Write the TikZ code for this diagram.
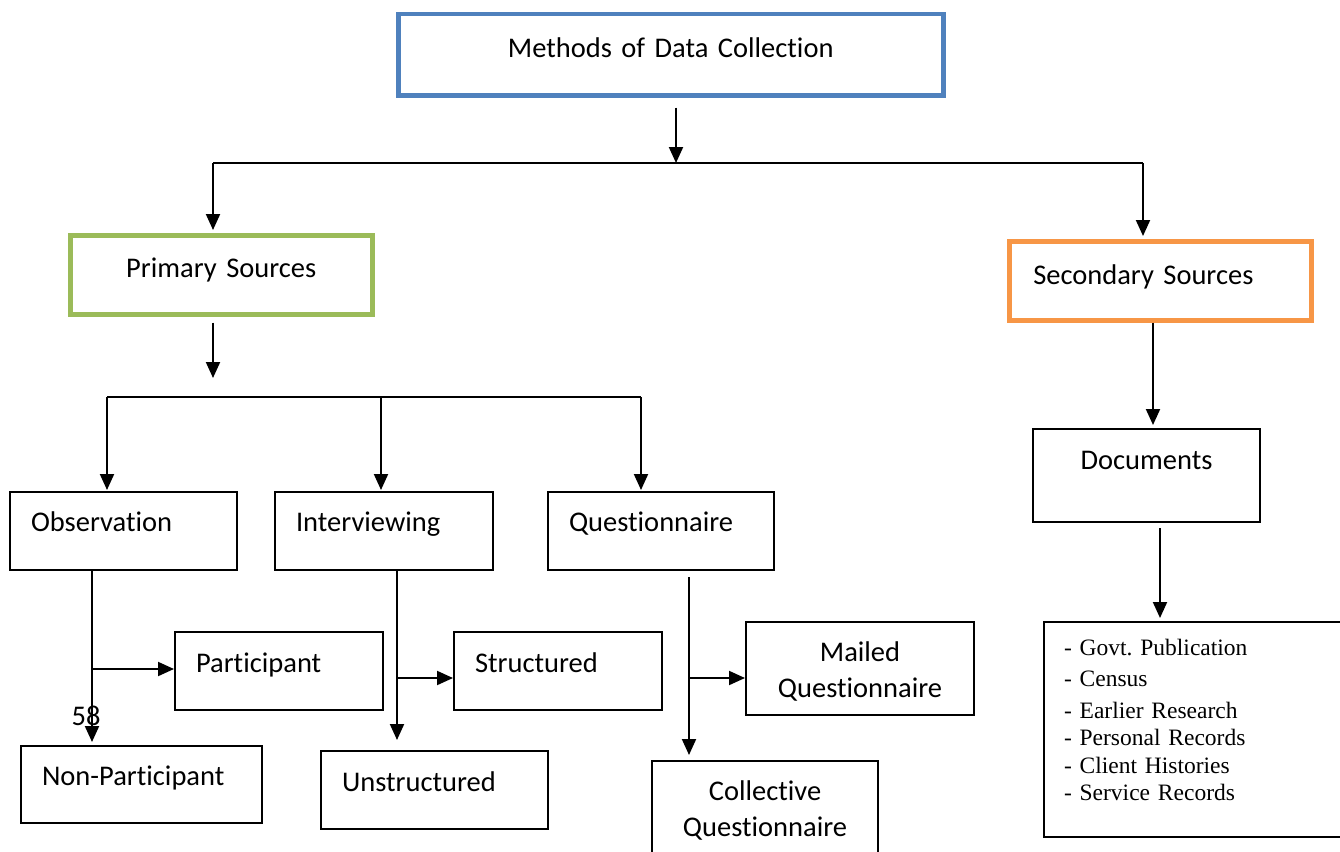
\documentclass[tikz,border=0pt]{standalone}
\usepackage{fontspec}
\setmainfont{Carlito}[Ligatures={NoCommon}]
\newfontfamily\listfont{Liberation Serif}
\usetikzlibrary{arrows.meta}
\frenchspacing

\definecolor{topblue}{HTML}{4F81BD}
\definecolor{primgreen}{HTML}{9BBB59}
\definecolor{secorange}{HTML}{F79646}

\tikzset{
  every node/.style={font=\fontsize{28.5}{36}\selectfont, inner ysep=0pt},
  box/.style={draw=black, line width=2pt, rectangle, anchor=north west},
  cbox/.style={box, line width=4.5pt},
  ln/.style={line width=2pt},
  arr/.style={line width=2pt, -{Triangle[width=14pt,length=16pt]}}
}

\begin{document}
\begin{tikzpicture}[x=1pt,y=-1pt]
\useasboundingbox (0,0) rectangle (1340,851);

% top level
\node[cbox, draw=topblue, inner xsep=0pt, text width=545pt, align=center,
      text height=43pt, text depth=38pt] (top) at (396,12) {Methods of Data Collection};

% primary and secondary
\node[cbox, draw=primgreen, inner xsep=0pt, text width=302pt, align=center,
      text height=42pt, text depth=37pt] (prim) at (68,233) {Primary Sources};
\node[cbox, draw=secorange, inner xsep=24pt, text width=254pt, align=left,
      text height=43pt, text depth=36pt] (sec) at (1007,239) {Secondary Sources};

% methods of primary collection
\node[box, inner xsep=21pt, text width=185pt, align=left,
      text height=39pt, text depth=39pt] (obs) at (9,491) {Observation};
\node[box, inner xsep=21pt, text width=176pt, align=left,
      text height=39pt, text depth=39pt] (intv) at (274,491) {Interviewing};
\node[box, inner xsep=21pt, text width=184pt, align=left,
      text height=39pt, text depth=39pt] (ques) at (547,491) {Questionnaire};

% kinds of observation
\node[box, inner xsep=21pt, text width=166pt, align=left,
      text height=40pt, text depth=38pt] (part) at (174,631) {Participant};
\node[box, inner xsep=21pt, text width=199pt, align=left,
      text height=39pt, text depth=38pt] (nonp) at (20,745) {Non-Participant};
\node (pg) at (86,716) {58};

% kinds of interviewing
\node[box, inner xsep=21pt, text width=166pt, align=left,
      text height=40pt, text depth=38pt] (struct) at (453,631) {Structured};
\node[box, inner xsep=21pt, text width=185pt, align=left,
      text height=40pt, text depth=38pt] (unstr) at (320,750) {Unstructured};

% kinds of questionnaire
\node[box, inner xsep=0pt, text width=228pt, align=center,
      text height=39pt, text depth=54pt] (mail) at (745,621) {Mailed\\Questionnaire};
\node[box, inner xsep=0pt, text width=226pt, align=center,
      text height=39pt, text depth=54pt] (coll) at (651,760) {Collective\\Questionnaire};

% secondary side
\node[box, inner xsep=0pt, text width=227pt, align=center,
      text height=40pt, text depth=53pt] (docs) at (1032,428) {Documents};
\node[box, inner xsep=20pt, text width=267pt, align=left,
      text height=33pt, text depth=182pt,
      font=\listfont\fontsize{23.5}{27.5}\selectfont] (list) at (1043,621)
  {- Govt. Publication\\[3.5pt]
   - Census\\[4.5pt]
   - Earlier Research\\
   - Personal Records\\
   - Client Histories\\
   - Service Records};

% junctions
\coordinate (j0) at (676,163);
\coordinate (jl) at (213,163);
\coordinate (jr) at (1143,163);
\coordinate (p1) at (213,378);
\coordinate (hl) at (107,397);
\coordinate (hm) at (381,397);
\coordinate (hr) at (641,397);
\coordinate (ob) at (92,669);
\coordinate (ib) at (397,678);
\coordinate (qb) at (689,678);

% connectors
\draw[arr, shorten <=10pt] (top.south -| j0) -- (j0);
\draw[ln] (jl) -- (jr);
\draw[arr, shorten >=3pt] (jl) -- (prim.north -| jl);
\draw[arr, shorten >=3pt] (jr) -- (sec.north -| jr);

\draw[arr, shorten <=6pt] (prim.south -| p1) -- (p1);
\draw[ln] (hl) -- (hr);
\draw[arr, shorten >=1pt] (hl) -- (obs.north -| hl);
\draw[arr, shorten >=1pt] (hm) -- (intv.north -| hm);
\draw[arr, shorten >=1pt] (hr) -- (ques.north -| hr);

\draw[arr, shorten >=3pt] (obs.south -| ob) -- (nonp.north -| ob);
\draw[arr] (ob) -- (part.west |- ob);

\draw[arr, shorten >=10pt] (intv.south -| ib) -- (unstr.north -| ib);
\draw[arr] (ib) -- (struct.west |- ib);

\draw[arr, shorten <=6pt, shorten >=5pt] (ques.south -| qb) -- (coll.north -| qb);
\draw[arr] (qb) -- (mail.west |- qb);

\draw[arr, shorten >=3pt] (sec.south -| 1153,0) -- (docs.north -| 1153,0);
\draw[arr, shorten <=5pt, shorten >=3pt] (docs.south -| 1160,0) -- (list.north -| 1160,0);
\end{tikzpicture}
\end{document}
